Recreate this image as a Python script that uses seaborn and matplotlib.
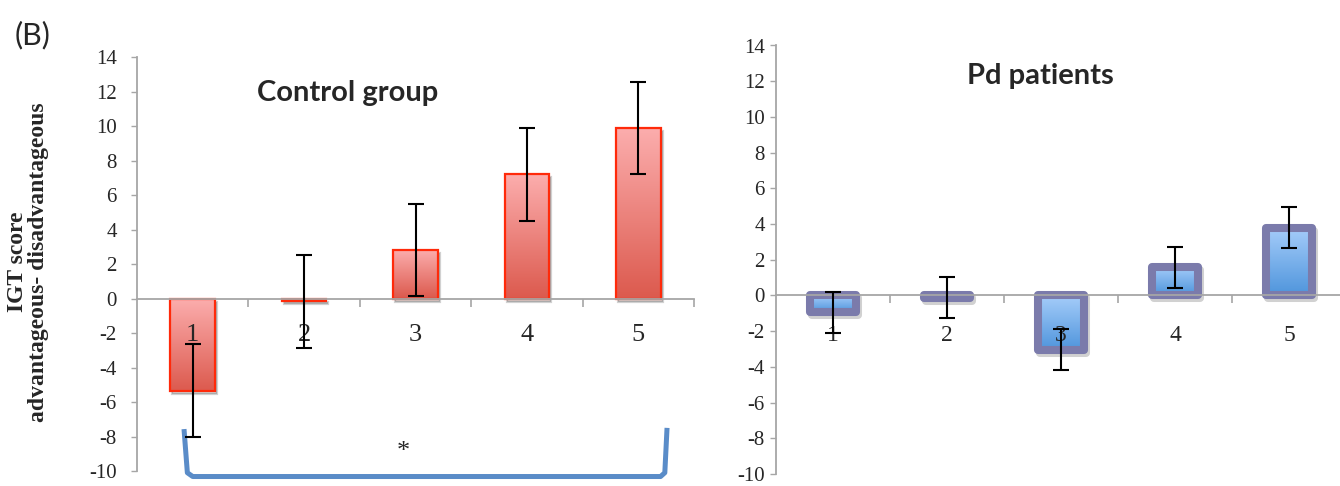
import matplotlib
matplotlib.use('Agg')
import matplotlib.pyplot as plt
import matplotlib.transforms as mtransforms
import numpy as np
import pandas as pd
import seaborn as sns
from matplotlib.colors import LinearSegmentedColormap
from matplotlib.patches import Rectangle

# values
sessions = ['1', '2', '3', '4', '5']
control_mean = [-5.35, -0.15, 2.8, 7.2, 9.87]
control_err = [2.7, 2.7, 2.65, 2.7, 2.68]
pd_mean = [-0.95, -0.12, -3.03, 1.58, 3.8]
pd_err = [1.17, 1.14, 1.16, 1.16, 1.16]
y_ticks = list(range(-10, 15, 2))

sns.set_style('white')
SERIF = ['Liberation Serif', 'DejaVu Serif']
plt.rcParams['font.family'] = SERIF
plt.rcParams['axes.unicode_minus'] = False

GREY = '#a6a6a6'
W, H = 1340, 486


def draw_panel(ax, means, errs, top_col, bot_col, edge, lw, join, lab_size, lab_pad, ypad):
    df = pd.DataFrame({'session': sessions, 'score': means})
    sns.barplot(data=df, x='session', y='score', ax=ax, width=0.4,
                color=bot_col, edgecolor=edge, linewidth=lw)
    cmap = LinearSegmentedColormap.from_list('grad', [top_col, bot_col])
    grad = np.linspace(0, 1, 256).reshape(-1, 1)
    shadow_tr = ax.transData + mtransforms.ScaledTranslation(2 / 100, -3 / 100, ax.figure.dpi_scale_trans)
    for p in list(ax.patches):
        bb = p.get_bbox()
        x0, x1 = sorted([bb.x0, bb.x1])
        y0, y1 = sorted([bb.y0, bb.y1])
        sh = Rectangle((x0, y0), x1 - x0, y1 - y0, transform=shadow_tr,
                       facecolor='black', alpha=0.18, edgecolor='black',
                       linewidth=lw, joinstyle=join, zorder=0.5)
        ax.add_patch(sh)
        im = ax.imshow(grad, cmap=cmap, extent=(x0, x1, y0, y1), aspect='auto',
                       origin='upper', zorder=1)
        im.set_clip_path(p)
        p.set_facecolor('none')
        p.set_joinstyle(join)
        p.set_zorder(2)
    ax.errorbar(range(len(sessions)), means, yerr=errs, fmt='none', ecolor='black',
                elinewidth=1.5, capsize=6, capthick=1.5, zorder=6)

    ax.set_xlim(-0.5, 4.5)
    ax.set_ylim(-10, 14)
    ax.set_yticks(y_ticks, labels=[str(v) for v in y_ticks])
    ax.set_xticks(range(len(sessions)), labels=sessions)
    ax.set_xticks(np.arange(0.5, 5, 1), minor=True)
    ax.set_xlabel('')
    ax.set_ylabel('')
    for s in ['top', 'right']:
        ax.spines[s].set_visible(False)
    ax.spines['bottom'].set_position(('data', 0))
    for s in ['left', 'bottom']:
        ax.spines[s].set_color(GREY)
        ax.spines[s].set_linewidth(1.3)
        ax.spines[s].set_zorder(3)
    ax.tick_params(axis='y', direction='out', length=4.5, width=1, color=GREY,
                   labelsize=15, pad=ypad, left=True, labelfontfamily=SERIF)
    ax.tick_params(axis='x', which='major', length=0, labelsize=lab_size, pad=lab_pad,
                   labelfontfamily=SERIF)
    ax.tick_params(axis='x', which='minor', direction='out', length=5.5, width=1.2,
                   color=GREY, bottom=True)
    # category labels sit on top of the bars
    ax.xaxis.set_zorder(5)
    ax.patch.set_alpha(0)


fig = plt.figure(figsize=(W / 100, H / 100), dpi=100)
ax1 = fig.add_axes([137 / W, 15 / H, 557 / W, 414 / H])
ax2 = fig.add_axes([776 / W, 12 / H, 570 / W, 428.5 / H])

draw_panel(ax1, control_mean, control_err, '#fcaeae', '#dc5a4e', '#ff2a0a', 1.6,
           'miter', 19, 18, 10)
draw_panel(ax2, pd_mean, pd_err, '#a6cdfa', '#4f95dc', '#7b7bab', 5.8,
           'round', 17, 21, 3.5)

# significance bracket under the control group
ax1.plot([-0.078, -0.048, 0.0, 4.2, 4.238, 4.258],
         [-7.57, -10.1, -10.32, -10.32, -10.1, -7.5],
         color='#5a8cc8', lw=3.6, solid_joinstyle='round', solid_capstyle='butt',
         clip_on=False, zorder=5)
ax1.text(1.888, -8.9, '*', ha='center', va='center', fontsize=19)

bold_sans = dict(family=['Lato', 'DejaVu Sans'], weight='bold', fontsize=21)
fig.text(348 / W, 1 - 101 / H, 'Control group', ha='center', va='baseline', **bold_sans)
fig.text(1040 / W, 1 - 84 / H, 'Pd patients', ha='center', va='baseline', **bold_sans)
fig.text(15 / W, 1 - 44 / H, '(B)', ha='left', va='baseline',
         family=['Lato', 'DejaVu Sans'], fontsize=22)
fig.text(28 / W, 1 - 262 / H, 'IGT score\nadvantageous- disadvantageous', rotation=90,
         ha='center', va='center', multialignment='center', fontsize=17, weight='bold',
         linespacing=1.0)

fig.savefig('out.png', dpi=100)
